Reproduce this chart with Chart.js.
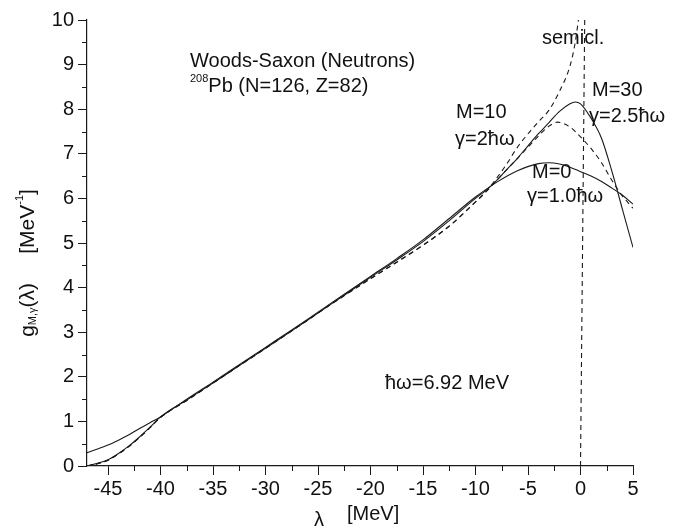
<!DOCTYPE html>
<html>
<head>
<meta charset="utf-8">
<script src="https://cdn.jsdelivr.net/npm/chart.js@4.4.0/dist/chart.umd.min.js"></script>
<style>
  body { margin: 0; background: #fff; }
  #wrap { width: 675px; height: 531px; }
</style>
</head>
<body>
<div id="wrap"><canvas id="c" width="675" height="531"></canvas></div>
<script>
// values
var xTicks = [-45, -40, -35, -30, -25, -20, -15, -10, -5, 0, 5];
var yTicks = [0, 1, 2, 3, 4, 5, 6, 7, 8, 9, 10];

var xM0 = [-47, -46, -45, -44, -43, -42, -41, -40, -37.5, -35, -32.5, -30, -27.5, -25, -22.5, -20, -17.5, -15, -12.5, -10, -8, -6, -4, -3, -2, -1, 0, 1, 2, 3, 4, 5];
var yM0 = [0.3, 0.38, 0.47, 0.58, 0.7, 0.84, 0.97, 1.1, 1.5, 1.88, 2.27, 2.66, 3.05, 3.45, 3.85, 4.25, 4.65, 5.07, 5.55, 6.03, 6.36, 6.62, 6.78, 6.8, 6.77, 6.7, 6.6, 6.5, 6.38, 6.23, 6.07, 5.87];

var xM30 = [-47, -46, -45, -44, -43, -42, -41, -40, -37.5, -35, -32.5, -30, -27.5, -25, -22.5, -20, -17.5, -15, -12.5, -10, -9, -8, -7, -6, -5, -4, -3, -2, -1, -0.5, 0, 1, 2, 3, 4, 5];
var yM30 = [0, 0.06, 0.14, 0.28, 0.45, 0.65, 0.87, 1.1, 1.48, 1.86, 2.25, 2.64, 3.03, 3.43, 3.83, 4.23, 4.62, 5.03, 5.5, 6.0, 6.18, 6.4, 6.65, 6.9, 7.18, 7.45, 7.7, 7.95, 8.12, 8.16, 8.12, 7.8, 7.35, 6.6, 5.75, 4.9];

var xM10 = [-47, -46, -45, -44, -43, -42, -41, -40, -37.5, -35, -32.5, -30, -27.5, -25, -22.5, -20, -17.5, -15, -12.5, -10, -9, -8, -7, -6, -5, -4, -3, -2.2, -1, 0, 1, 2, 3, 4, 5];
var yM10 = [0, 0.05, 0.13, 0.27, 0.44, 0.64, 0.86, 1.09, 1.47, 1.86, 2.25, 2.64, 3.03, 3.43, 3.82, 4.2, 4.57, 4.95, 5.38, 5.92, 6.15, 6.4, 6.65, 6.9, 7.15, 7.4, 7.62, 7.71, 7.6, 7.38, 7.12, 6.8, 6.4, 6.05, 5.78];

var xSemi = [-47, -46, -45, -44, -43, -42, -41, -40, -37.5, -35, -32.5, -30, -27.5, -25, -22.5, -20, -17.5, -15, -12.5, -10, -9, -8, -7, -6, -5, -4, -3, -2, -1, -0.5, -0.2];
var ySemi = [0, 0.05, 0.13, 0.27, 0.44, 0.64, 0.86, 1.09, 1.47, 1.86, 2.25, 2.64, 3.03, 3.43, 3.82, 4.2, 4.57, 4.95, 5.38, 5.92, 6.15, 6.45, 6.78, 7.15, 7.45, 7.72, 7.98, 8.4, 8.97, 9.5, 10];

var xVert = [0, 0.4];
var yVert = [0, 10];

function pts(xs, ys) {
	return xs.map(function(x, i) { return { x: x, y: ys[i] }; });
}

var FONT = '"Liberation Sans", Arial, sans-serif';
var INK = '#1a1a1a';

function line(data, dashed) {
	return {
		data: data,
		borderColor: INK,
		borderWidth: 1.1,
		borderDash: dashed ? [5, 4] : [],
		pointRadius: 0,
		fill: false,
		cubicInterpolationMode: 'monotone'
	};
}

// draws the texts and the minor ticks
var decorPlugin = {
	id: 'decor',
	afterDraw: function(chart) {
		var ctx = chart.ctx;
		var xs = chart.scales.x, ys = chart.scales.y;
		ctx.save();
		ctx.strokeStyle = INK;
		ctx.lineWidth = 1;
		// minor ticks
		for (var i = 0; i < xTicks.length - 1; i++) {
			var px = Math.round(xs.getPixelForValue((xTicks[i] + xTicks[i + 1]) / 2)) + 0.5;
			ctx.beginPath();
			ctx.moveTo(px, ys.bottom);
			ctx.lineTo(px, ys.bottom + 5);
			ctx.stroke();
		}
		for (var j = 0; j < yTicks.length - 1; j++) {
			var py = Math.round(ys.getPixelForValue((yTicks[j] + yTicks[j + 1]) / 2)) + 0.5;
			ctx.beginPath();
			ctx.moveTo(xs.left, py);
			ctx.lineTo(xs.left - 5, py);
			ctx.stroke();
		}

		ctx.fillStyle = '#111';
		ctx.textBaseline = 'middle';
		ctx.textAlign = 'left';
		function t(s, x, y, size) {
			ctx.font = (size || 20) + 'px ' + FONT;
			ctx.fillText(s, x, y);
			return ctx.measureText(s).width;
		}

		t('Woods-Saxon (Neutrons)', 190, 61);
		var w = t('208', 190, 79, 11);
		t('Pb (N=126, Z=82)', 190 + w, 86);

		t('semicl.', 542, 38);
		t('M=30', 592, 90);
		t('\u03b3=2.5\u0127\u03c9', 589, 116);
		t('M=10', 456, 112);
		t('\u03b3=2\u0127\u03c9', 455, 139);
		t('M=0', 532, 172);
		t('\u03b3=1.0\u0127\u03c9', 527, 196);
		t('\u0127\u03c9=6.92 MeV', 385, 383);

		// x title
		t('\u03bb', 314, 520);
		t('[MeV]', 347, 514);

		// y title, rotated
		ctx.translate(28, 263);
		ctx.rotate(-Math.PI / 2);
		var parts = [
			['g', 21, 0], ['M,\u03b3', 11, 5], ['(\u03bb)', 21, 0], ['     [MeV', 21, 0], ['-1', 11, -8], [']', 21, 0]
		];
		var total = 0;
		parts.forEach(function(p) {
			ctx.font = p[1] + 'px ' + FONT;
			total += ctx.measureText(p[0]).width;
		});
		var cx = -total / 2;
		parts.forEach(function(p) {
			ctx.font = p[1] + 'px ' + FONT;
			ctx.fillText(p[0], cx, p[2]);
			cx += ctx.measureText(p[0]).width;
		});
		ctx.restore();
	}
};

new Chart(document.getElementById('c').getContext('2d'), {
	type: 'line',
	data: {
		datasets: [
			line(pts(xM0, yM0), false),
			line(pts(xM30, yM30), false),
			line(pts(xM10, yM10), true),
			line(pts(xSemi, ySemi), true),
			Object.assign(line(pts(xVert, yVert), true), { cubicInterpolationMode: 'default', tension: 0 })
		]
	},
	options: {
		responsive: false,
		animation: false,
		layout: { padding: { left: 0, right: 42, top: 20, bottom: 0 } },
		plugins: { legend: { display: false }, tooltip: { enabled: false } },
		scales: {
			x: {
				type: 'linear',
				min: -47,
				max: 5,
				afterBuildTicks: function(s) { s.ticks = xTicks.map(function(v) { return { value: v }; }); },
				afterFit: function(s) { s.height = 65; },
				border: { display: true, color: INK, width: 1.2 },
				grid: { display: true, drawOnChartArea: false, drawTicks: true, tickLength: 9, tickColor: INK },
				ticks: { color: '#111', font: { family: FONT, size: 20 }, padding: 2, maxRotation: 0 }
			},
			y: {
				min: 0,
				max: 10,
				afterBuildTicks: function(s) { s.ticks = yTicks.map(function(v) { return { value: v }; }); },
				afterFit: function(s) { s.width = 87; },
				border: { display: true, color: INK, width: 1.2 },
				grid: { display: true, drawOnChartArea: false, drawTicks: true, tickLength: 9, tickColor: INK },
				ticks: { color: '#111', font: { family: FONT, size: 20 }, padding: 4 }
			}
		}
	},
	plugins: [decorPlugin]
});
</script>
</body>
</html>
